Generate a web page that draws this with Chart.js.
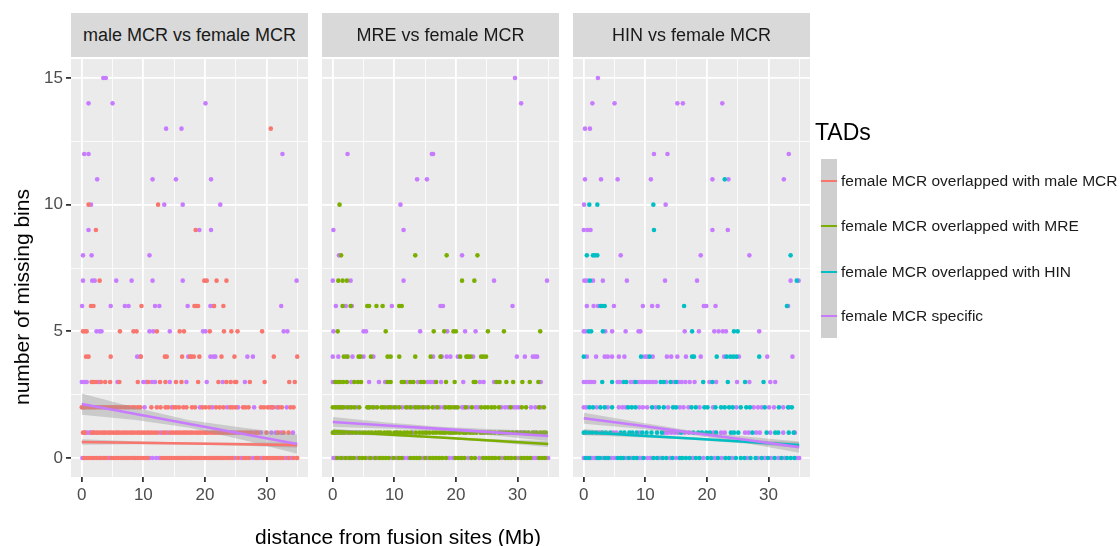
<!DOCTYPE html>
<html>
<head>
<meta charset="utf-8">
<script src="https://cdn.jsdelivr.net/npm/chart.js@4"></script>
<style>
  body { margin: 0; background: #fff; font-family: "Liberation Sans", Arial, sans-serif; }
  #wrap { position: relative; width: 1120px; height: 546px; overflow: hidden; }
  canvas { position: absolute; left: 0; top: 0; }
  .strip { position: absolute; top: 13px; height: 44px; width: 237px; background: #d9d9d9;
           color: #1a1a1a; font-size: 18px; line-height: 44px; text-align: center; }
  .ytitle { position: absolute; left: 22px; top: 297px; transform: translate(-50%, -50%) rotate(-90deg);
            font-size: 21px; color: #000; white-space: nowrap; }
  .xtitle { position: absolute; left: 398px; top: 537px; transform: translate(-50%, -50%);
            font-size: 21px; color: #000; white-space: nowrap; }
  .legtitle { position: absolute; left: 815px; top: 119px; font-size: 23px; color: #000; }
  .legbox { position: absolute; left: 821px; top: 159px; width: 16px; height: 179px; background: #cfcfcf; }
  .legline { position: absolute; left: 821px; width: 16px; height: 2px; }
  .leglabel { position: absolute; left: 841px; font-size: 15.5px; color: #1a1a1a; transform: translateY(-50%); white-space: nowrap; }
</style>
</head>
<body>
<div id="wrap">
  <canvas id="c1" width="1120" height="546"></canvas>
  <canvas id="c2" width="1120" height="546"></canvas>
  <canvas id="c3" width="1120" height="546"></canvas>
</div>
<script>
// facet titles and legend labels
const facetTitles = ['male MCR vs female MCR', 'MRE vs female MCR', 'HIN vs female MCR'];
const legendLabels = ['female MCR overlapped with male MCR', 'female MCR overlapped with MRE',
                      'female MCR overlapped with HIN', 'female MCR specific'];
const colors = ['#F8766D', '#7CAE00', '#00BFC4', '#C77CFF'];

const xTickVals = [0, 5, 10, 15, 20, 25, 30, 35];
const xTickLabels = { 0: '0', 10: '10', 20: '20', 30: '30' };
const yTickVals = [0, 2.5, 5, 7.5, 10, 12.5, 15];
const yTickLabels = { 0: '0', 5: '5', 10: '10', 15: '15' };

// points: rows of [missing bins, [distances...]]
const maleOverlap = [
  [13, [30.7]],
  [10, [1.1, 12.4]],
  [9, [2.3, 18.5]],
  [7, [2.9, 19.9, 20.3, 21.9, 23.5]],
  [6, [1.5, 1.9, 9.7, 18.3, 18.6, 18.9, 21.5, 23.0]],
  [5, [0.2, 0.5, 0.8, 6.2, 8.4, 8.9, 12.2, 15.9, 16.6, 20.8, 23.1, 24.3, 25.3, 29.3]],
  [4, [0.7, 1.1, 4.7, 9.6, 13.5, 13.8, 16.3, 17.6, 17.8, 18.2, 19.1, 22.7, 24.8, 31.2, 35.0]],
  [3, [1.6, 1.9, 2.3, 3.1, 3.8, 4.6, 6.1, 9.1, 10.8, 12.7, 13.6, 15.3, 16.2, 18.9, 22.2, 23.5, 24.2, 24.9, 25.1, 27.3, 29.7, 33.7, 34.6]],
  [2, [0, 0.35, 0.7, 1.1, 1.5, 1.85, 2.2, 2.6, 3.0, 3.3, 3.7, 4.1, 4.5, 4.9, 5.3, 5.6, 6.0, 6.4, 6.9, 7.3, 7.7, 8.2, 8.6, 9.1, 9.5,
       11.3, 12.2, 12.8, 13.6, 14.0, 14.9, 15.3, 15.8, 16.5, 17.0, 17.9, 18.4, 19.6, 20.1, 20.7, 21.8, 22.4, 23.0, 24.1, 24.5,
       25.0, 26.2, 26.6, 27.1, 29.1, 29.6, 30.2, 30.6, 31.1, 32.0, 32.5, 33.9, 34.4]],
  [1, [0.2, 0.5, 1.6, 2.0, 2.45, 2.8, 3.25, 3.6, 3.9, 4.35, 4.7, 5.1, 5.55, 5.8, 6.2, 6.65, 7.0, 7.4, 7.85, 8.2, 8.6, 9.05, 9.4, 9.8,
       10.2, 10.65, 11.0, 11.4, 11.85, 12.3, 13.2, 13.6, 14.4, 14.8, 15.25, 15.6, 16.0, 16.45, 16.8, 17.2, 17.65, 18.0, 18.5, 18.9,
       19.3, 19.75, 20.1, 20.5, 21.0, 21.4, 21.8, 22.25, 22.6, 23.0, 23.45, 23.8, 24.2, 24.6, 25.4, 25.8, 26.2, 26.65, 27.0, 27.4,
       28.2, 28.6, 30.0, 31.9, 32.8, 33.6]],
  [0, [0.4, 0.8, 1.2, 1.65, 2.0, 2.4, 2.85, 3.2, 3.6, 3.95, 4.7, 5.1, 5.5, 5.9, 6.35, 6.7, 7.1, 7.5, 7.9, 8.35, 8.7, 9.1, 9.5, 9.9,
       10.3, 10.7, 13.0, 13.4, 13.8, 14.2, 14.6, 15.05, 15.4, 15.8, 16.2, 16.6, 17.0, 17.45, 17.8, 18.2, 18.6, 19.0, 19.4, 19.85,
       20.2, 20.6, 21.0, 21.4, 21.8, 22.2, 22.6, 23.0, 23.4, 23.85, 24.2, 24.5, 25.4, 26.3, 26.7, 27.2, 28.3, 28.6, 29.5, 29.9,
       30.3, 30.7, 31.1, 31.5, 31.9, 32.3, 32.7, 33.6, 34.4, 35.0]]
];
const maleSpecific = [
  [15, [3.5, 3.9]],
  [14, [1.1, 5.0, 20.1]],
  [13, [13.7, 16.2]],
  [12, [0.4, 1.1, 32.6]],
  [11, [2.5, 11.5, 15.3, 21.0]],
  [10, [1.5, 13.4, 16.4, 22.5]],
  [9, [1.1, 19.1, 21.0]],
  [8, [0.2, 1.6, 11.0]],
  [7, [0.2, 1.7, 2.1, 5.6, 8.1, 11.5, 16.4, 34.9]],
  [6, [0.05, 4.7, 7.0, 7.6, 11.9, 12.6, 17.2, 20.9, 21.4, 32.4]],
  [5, [2.4, 2.9, 3.2, 11.0, 11.6, 14.3, 19.7, 20.1, 32.8, 33.4]],
  [4, [9.0, 9.5, 17.3, 20.9, 21.4, 21.7, 26.9, 27.8]],
  [3, [0, 0.4, 0.8, 2.7, 5.8, 10.0, 10.5, 11.4, 11.9, 14.3, 17.0, 20.3, 22.9, 26.5]],
  [2, [0.3, 10.2, 14.6, 19.2, 21.2, 23.6, 25.4, 28.0, 30.9, 31.7, 33.3]],
  [1, [0.6, 1.0, 1.4, 1.9, 12.8, 14.0, 25.0, 27.7, 29.1, 30.8, 31.5, 32.4, 34.3]],
  [0, [0.1, 4.3, 11.0, 11.5, 12.1, 12.6, 24.9, 25.9, 27.8, 29.0, 33.2, 34.0, 34.9]]
];
const mreOverlap = [
  [10, [1.1]],
  [8, [1.35, 13.4, 18.5, 23.5]],
  [7, [0.9, 1.6, 2.3, 21.0, 23.0]],
  [6, [1.6, 2.9, 5.6, 5.9, 7.1, 8.1, 10.8, 11.2]],
  [5, [0.8, 8.6, 16.4, 18.1, 19.6, 20.0, 25.2, 27.8, 33.7]],
  [4, [1.8, 2.4, 4.2, 4.5, 6.2, 8.9, 9.4, 10.8, 13.4, 15.9, 17.5, 20.7, 21.7, 22.0, 22.4, 24.1, 24.5, 24.9]],
  [3, [0.4, 0.8, 1.2, 1.7, 2.3, 3.5, 4.1, 4.6, 8.9, 9.4, 11.2, 11.6, 12.6, 13.1, 14.3, 14.8, 16.8, 18.4, 19.8, 22.9, 23.2,
       26.6, 27.1, 28.2, 29.3, 30.8, 32.0, 33.4]],
  [2, [0, 0.4, 0.9, 1.3, 1.7, 2.4, 3.0, 3.5, 4.3, 5.6, 6.0, 6.5, 7.2, 7.9, 8.3, 9.0, 9.4, 10.1, 10.8, 11.9, 12.6, 13.4, 14.0,
       14.7, 15.5, 16.2, 17.0, 18.3, 18.8, 19.2, 19.7, 20.3, 21.6, 22.6, 24.1, 24.7, 25.2, 25.8, 26.3, 27.0, 28.9, 30.7, 31.4,
       33.5, 34.3]],
  [1, [0, 0.3, 0.6, 1.0, 1.4, 1.9, 2.6, 3.2, 3.7, 4.4, 4.9, 5.3, 5.8, 6.3, 6.9, 7.4, 7.8, 8.4, 8.9, 9.3, 10.0, 10.5, 11.0,
       11.6, 12.1, 12.7, 13.5, 14.1, 14.6, 15.2, 15.7, 16.3, 16.8, 17.4, 17.9, 18.3, 18.9, 19.5, 20.0, 20.6, 21.2, 21.7, 22.3,
       22.8, 23.3, 24.0, 24.6, 25.2, 25.7, 26.3, 27.0, 27.6, 28.1, 28.6, 29.2, 29.8, 30.5, 31.2, 31.8, 32.5, 33.1, 33.7, 34.2, 34.6]],
  [0, [0.7, 1.4, 2.1, 2.8, 3.4, 4.3, 4.8, 5.3, 6.1, 6.9, 7.6, 8.1, 8.6, 9.1, 9.9, 10.7, 11.2, 12.6, 13.1, 13.6, 14.1, 15.0,
       15.8, 16.3, 16.8, 17.3, 17.8, 18.4, 19.9, 20.4, 20.9, 21.4, 22.5, 23.1, 24.4, 24.9, 25.4, 25.9, 26.4, 27.0, 28.0, 28.5,
       29.0, 29.6, 30.6, 31.1, 31.6, 32.1, 33.5, 34.0, 34.5]]
];
const mreSpecific = [
  [15, [29.6]],
  [14, [30.6]],
  [12, [2.4, 16.1, 16.3]],
  [11, [13.7, 15.3]],
  [10, [11.0]],
  [9, [0.1, 11.5]],
  [8, [1.0, 21.0]],
  [7, [0, 2.9, 11.5, 26.2, 34.8]],
  [6, [0.5, 2.1, 3.1, 9.6, 17.5, 17.9, 29.2]],
  [5, [0.1, 5.0, 5.4, 14.2, 18.6, 21.5, 23.2]],
  [4, [0, 0.9, 2.2, 3.2, 5.0, 6.6, 16.3, 17.7, 18.5, 19.1, 20.3, 22.8, 29.9, 31.2, 32.5, 32.9, 33.2]],
  [3, [0, 3.0, 5.9, 7.5, 8.5, 12.1, 13.8, 15.4, 15.9, 16.4, 17.6, 21.2, 23.9, 24.5, 26.2, 33.8]],
  [2, [0.6, 1.1, 1.5, 2.0, 2.7, 3.9, 5.8, 6.8, 8.6, 9.8, 10.4, 11.3, 12.2, 13.0, 13.7, 14.4, 15.1, 16.6, 17.4, 18.0, 20.0,
       21.0, 21.3, 22.0, 23.2, 23.6, 27.4, 28.0, 28.5, 29.4, 29.8, 30.2, 32.2, 32.9, 33.8]],
  [1, [1.6, 2.3, 2.9, 4.0, 10.3, 13.0, 15.0, 19.2, 21.5, 24.3, 27.3, 30.0, 30.9, 32.8]],
  [0, [0.1, 0.4, 1.1, 1.7, 2.5, 3.0, 3.9, 5.8, 6.6, 7.2, 9.6, 10.3, 11.6, 12.2, 14.6, 15.4, 18.9, 19.5, 22.0, 23.8, 27.5,
       30.1, 32.6, 33.0, 35.0]]
];
const hinOverlap = [
  [11, [22.9]],
  [10, [0.9, 2.2, 11.3]],
  [9, [11.4]],
  [8, [0.5, 1.5, 1.8, 2.2, 33.6]],
  [7, [1.0, 34.6]],
  [6, [2.7, 3.0, 3.4, 16.3, 33.0]],
  [5, [0.8, 1.2, 3.1, 17.6, 24.4, 25.0]],
  [4, [0, 9.3, 10.7, 17.6, 17.9, 21.6, 23.2, 23.8, 24.3, 24.8, 28.5]],
  [3, [3.0, 4.6, 6.5, 6.9, 8.4, 12.5, 13.0, 14.1, 15.0, 19.4, 20.9, 23.4, 26.2, 29.2]],
  [2, [0.9, 1.5, 2.7, 3.4, 4.6, 7.2, 7.8, 8.4, 11.1, 12.2, 13.0, 14.5, 15.0, 17.5, 18.2, 19.6, 20.1, 21.4, 22.3, 22.9, 23.6,
       24.2, 25.5, 26.4, 27.0, 29.4, 31.7, 33.2, 33.8]],
  [1, [0, 0.4, 0.9, 1.4, 2.0, 3.0, 3.6, 4.3, 6.0, 6.6, 7.4, 7.9, 8.6, 9.5, 10.2, 11.0, 11.9, 12.7, 15.8, 17.8, 18.6, 19.2,
       19.9, 20.5, 21.5, 23.9, 24.4, 25.1, 27.4, 29.7, 31.1, 31.6, 33.3, 34.1]],
  [0, [0.3, 0.9, 2.2, 2.6, 3.4, 4.0, 5.5, 6.0, 6.4, 7.3, 8.1, 8.6, 9.7, 11.3, 11.9, 12.8, 13.4, 14.4, 15.6, 16.0, 16.6, 17.2,
       18.2, 18.8, 20.1, 20.7, 21.8, 23.0, 23.6, 24.7, 25.5, 26.1, 27.1, 27.9, 28.9, 29.9, 31.0, 32.1, 33.0, 33.6, 34.2]]
];
const hinSpecific = [
  [15, [2.3]],
  [14, [1.4, 5.0, 15.2, 16.1, 22.5]],
  [13, [0.2, 1.0]],
  [12, [11.4, 13.6, 33.3]],
  [11, [0.2, 2.8, 5.5, 10.9, 20.9, 23.5, 32.5]],
  [10, [0.05, 13.3]],
  [9, [0, 0.6, 1.1, 20.9, 23.4]],
  [8, [6.0, 19.0, 26.9]],
  [7, [0.1, 0.5, 1.5, 3.1, 7.0, 13.2, 18.4, 33.6, 34.9]],
  [6, [0.5, 1.6, 2.3, 4.9, 9.6, 11.1, 12.0, 19.5, 19.9, 21.4, 33.2]],
  [5, [0, 0.3, 3.5, 4.6, 6.8, 8.9, 9.2, 16.4, 18.7, 21.2, 21.9, 22.6, 23.1, 28.5]],
  [4, [0.5, 2.0, 3.4, 3.9, 4.6, 5.7, 6.6, 9.9, 10.3, 11.2, 13.5, 14.2, 15.2, 16.6, 19.0, 22.8, 25.2, 29.8, 33.9]],
  [3, [0, 0.4, 0.9, 1.3, 1.7, 5.5, 5.9, 7.6, 8.1, 8.9, 9.4, 9.7, 10.2, 10.7, 11.2, 11.7, 13.4, 14.6, 15.4, 15.9, 16.5,
       17.2, 18.0, 20.4, 21.5, 24.9, 26.9, 30.3, 31.1]],
  [2, [0, 0.4, 2.1, 3.9, 5.7, 6.3, 6.8, 9.0, 9.6, 10.3, 11.7, 13.7, 15.6, 16.2, 17.0, 18.8, 21.0, 24.8, 27.6, 28.3, 28.9,
       30.1, 30.9, 32.4, 33.3]],
  [1, [0.2, 2.5, 4.8, 5.3, 9.1, 13.1, 13.6, 14.2, 14.8, 15.3, 16.4, 17.1, 21.1, 22.3, 22.9, 26.2, 26.8, 28.0, 28.6, 30.3,
       32.4, 34.3]],
  [0, [0, 0.6, 1.2, 1.6, 1.9, 3.0, 3.7, 4.5, 5.0, 6.8, 7.7, 9.0, 9.3, 10.3, 10.8, 12.3, 14.0, 15.0, 17.7, 19.4, 21.3,
       22.4, 24.1, 26.6, 28.3, 29.4, 30.4, 31.6, 32.6, 34.6, 35.0]]
];

// linear fits with confidence bands, read at these distances
const fitX = [0, 8.75, 17.5, 26.25, 35];
const maleOverlapFit = [0.63, 0.60, 0.57, 0.54, 0.51];
const maleOverlapLo  = [0.52, 0.54, 0.53, 0.48, 0.40];
const maleOverlapHi  = [0.74, 0.66, 0.61, 0.60, 0.62];
const maleSpecFit = [2.13, 1.74, 1.34, 0.95, 0.55];
const maleSpecLo  = [1.71, 1.50, 1.19, 0.71, 0.17];
const maleSpecHi  = [2.55, 1.98, 1.49, 1.19, 0.93];
const mreOverlapFit = [1.06, 0.93, 0.81, 0.68, 0.55];
const mreOverlapLo  = [0.96, 0.87, 0.77, 0.62, 0.43];
const mreOverlapHi  = [1.16, 0.99, 0.85, 0.74, 0.67];
const mreSpecFit = [1.42, 1.28, 1.15, 1.01, 0.87];
const mreSpecLo  = [1.22, 1.16, 1.07, 0.89, 0.67];
const mreSpecHi  = [1.62, 1.40, 1.23, 1.13, 1.07];
const hinOverlapFit = [1.02, 0.89, 0.77, 0.64, 0.51];
const hinOverlapLo  = [0.90, 0.82, 0.72, 0.57, 0.39];
const hinOverlapHi  = [1.14, 0.96, 0.82, 0.71, 0.63];
const hinSpecFit = [1.57, 1.29, 1.00, 0.72, 0.43];
const hinSpecLo  = [1.35, 1.16, 0.92, 0.59, 0.21];
const hinSpecHi  = [1.79, 1.42, 1.08, 0.85, 0.65];

const toPts = rows => rows.flatMap(([y, xs]) => xs.map(x => ({ x, y })));
const toLine = ys => ys.map((y, i) => ({ x: fitX[i], y }));

const panelBg = {
  id: 'panelBg',
  beforeDraw(chart) {
    const a = chart.chartArea, c = chart.ctx;
    c.save(); c.fillStyle = '#EBEBEB';
    c.fillRect(a.left, a.top, a.right - a.left, a.bottom - a.top);
    c.restore();
  }
};

const panelLeft = [71, 322, 573];
const panelW = 237;
const yAxisW = 45;

function makePanel(id, idx, overlap, specific, col, fits) {
  const left = panelLeft[idx];
  const first = idx === 0;
  const ds = [];
  // fitted lines on top
  ds.push({ type: 'line', data: toLine(fits.specFit), borderColor: colors[3], borderWidth: 2.6, pointRadius: 0, fill: false, order: 1 });
  ds.push({ type: 'line', data: toLine(fits.ovFit), borderColor: col, borderWidth: 2.6, pointRadius: 0, fill: false, order: 1 });
  // bands
  ds.push({ type: 'line', data: toLine(fits.specHi), borderWidth: 0, pointRadius: 0, fill: '+1', backgroundColor: 'rgba(153,153,153,0.4)', order: 3 });
  ds.push({ type: 'line', data: toLine(fits.specLo), borderWidth: 0, pointRadius: 0, fill: false, order: 3 });
  ds.push({ type: 'line', data: toLine(fits.ovHi), borderWidth: 0, pointRadius: 0, fill: '+1', backgroundColor: 'rgba(153,153,153,0.4)', order: 4 });
  ds.push({ type: 'line', data: toLine(fits.ovLo), borderWidth: 0, pointRadius: 0, fill: false, order: 4 });
  // points
  ds.push({ data: toPts(overlap), backgroundColor: col, pointRadius: 2.3, pointBorderWidth: 0, order: 10 });
  ds.push({ data: toPts(specific), backgroundColor: colors[3], pointRadius: 2.3, pointBorderWidth: 0, order: 11 });

  const gridCommon = (isMajor) => ({
    color: '#FFFFFF',
    lineWidth: ctx => (ctx.tick && isMajor(ctx.tick.value)) ? 1.8 : 0.8,
    tickLength: 5,
    tickWidth: 1.8,
    tickColor: ctx => (ctx.tick && isMajor(ctx.tick.value)) ? '#333333' : 'rgba(0,0,0,0)'
  });

  new Chart(document.getElementById(id), {
    type: 'scatter',
    data: { datasets: ds },
    plugins: [panelBg],
    options: {
      responsive: false,
      animation: false,
      devicePixelRatio: 1,
      layout: { padding: { left: left - yAxisW, right: 1120 - left - panelW, top: 59, bottom: 39 } },
      plugins: { legend: { display: false }, tooltip: { enabled: false } },
      scales: {
        x: {
          type: 'linear', min: -1.75, max: 36.75,
          afterBuildTicks: s => { s.ticks = xTickVals.map(v => ({ value: v })); },
          afterFit: s => { s.height = 30; },
          border: { display: false },
          grid: gridCommon(v => v % 10 === 0),
          ticks: {
            autoSkip: false, maxRotation: 0, padding: 3,
            color: '#4D4D4D', font: { size: 17, family: 'Liberation Sans' },
            callback: v => xTickLabels[v] || ''
          }
        },
        y: {
          type: 'linear', min: -0.75, max: 15.75,
          afterBuildTicks: s => { s.ticks = yTickVals.map(v => ({ value: v })); },
          afterFit: s => { s.width = yAxisW; },
          border: { display: false },
          grid: Object.assign(gridCommon(v => v % 5 === 0), { drawTicks: first }),
          ticks: {
            display: first, padding: 3,
            color: '#4D4D4D', font: { size: 17, family: 'Liberation Sans' },
            callback: v => yTickLabels[v] || ''
          }
        }
      }
    }
  });
}

makePanel('c1', 0, maleOverlap, maleSpecific, colors[0], {
  ovFit: maleOverlapFit, ovLo: maleOverlapLo, ovHi: maleOverlapHi,
  specFit: maleSpecFit, specLo: maleSpecLo, specHi: maleSpecHi });
makePanel('c2', 1, mreOverlap, mreSpecific, colors[1], {
  ovFit: mreOverlapFit, ovLo: mreOverlapLo, ovHi: mreOverlapHi,
  specFit: mreSpecFit, specLo: mreSpecLo, specHi: mreSpecHi });
makePanel('c3', 2, hinOverlap, hinSpecific, colors[2], {
  ovFit: hinOverlapFit, ovLo: hinOverlapLo, ovHi: hinOverlapHi,
  specFit: hinSpecFit, specLo: hinSpecLo, specHi: hinSpecHi });

// facet strips, axis titles, legend as text
const wrap = document.getElementById('wrap');
facetTitles.forEach((t, i) => {
  const d = document.createElement('div');
  d.className = 'strip'; d.style.left = panelLeft[i] + 'px'; d.textContent = t;
  wrap.appendChild(d);
});
const add = (cls, text, style) => {
  const d = document.createElement('div');
  d.className = cls; if (text) d.textContent = text;
  Object.assign(d.style, style || {});
  wrap.appendChild(d);
};
add('ytitle', 'number of missing bins');
add('xtitle', 'distance from fusion sites (Mb)');
add('legtitle', 'TADs');
add('legbox', '');
const legY = [181, 226, 272, 316];
legendLabels.forEach((t, i) => {
  add('legline', '', { top: (legY[i] - 1) + 'px', background: colors[i] });
  add('leglabel', t, { top: legY[i] + 'px' });
});
</script>
</body>
</html>
